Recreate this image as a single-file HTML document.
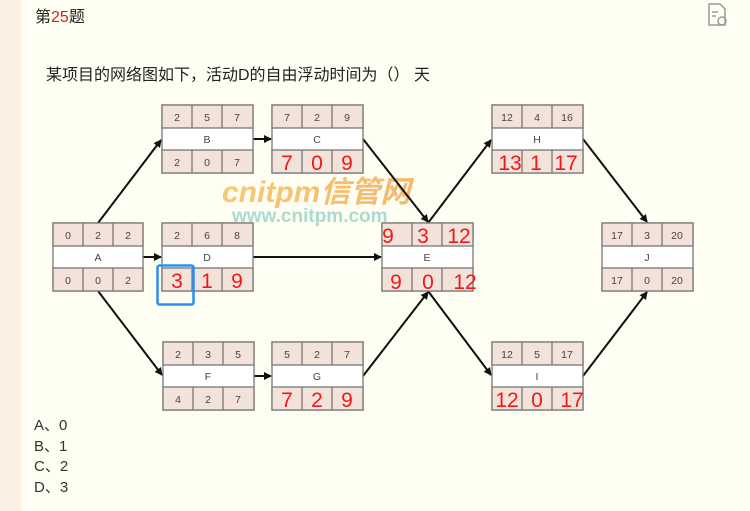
<!DOCTYPE html>
<html><head><meta charset="utf-8"><style>
html,body{margin:0;padding:0}
body{width:750px;height:511px;background:#fffef2;position:relative;overflow:hidden;font-family:"Liberation Sans","Noto Sans CJK SC",sans-serif}
.strip{position:absolute;left:0;top:0;width:21px;height:511px;background:#fbf0e2}
</style></head><body>
<div class="strip"></div>
<svg width="750" height="511" style="position:absolute;left:0;top:0" xmlns="http://www.w3.org/2000/svg" font-family="Liberation Sans, Noto Sans CJK SC, sans-serif">
<defs><marker id="ah" markerWidth="8" markerHeight="8" refX="7" refY="4" orient="auto" markerUnits="userSpaceOnUse" viewBox="0 0 8 8"><path d="M0,0 L8,4 L0,8 z" fill="#111"/></marker>
<linearGradient id="wg" x1="0" x2="1"><stop offset="0" stop-color="#f6b84a"/><stop offset="1" stop-color="#f3a040"/></linearGradient></defs>
<text x="35" y="22" font-size="16" fill="#222">第<tspan fill="#d42020">25</tspan>题</text>
<g fill="none" stroke="#999" stroke-width="1.5"><path d="M709 4h11l5 5v16h-16z"/><path d="M712 12h6M712 16h4"/><circle cx="722" cy="21" r="4"/></g>
<text x="46" y="80" font-size="16" fill="#222">某项目的网络图如下，活动D的自由浮动时间为（） 天</text>
<text x="222" y="202" font-size="30" font-weight="bold" font-style="italic" fill="url(#wg)" opacity="0.75">cnitpm信管网</text>
<text x="232" y="222" font-size="19" font-weight="bold" fill="#8fcfc5" opacity="0.75">www.cnitpm.com</text>
<g stroke="#111" stroke-width="2" marker-end="url(#ah)">
<line x1="98" y1="223" x2="161" y2="140"/>
<line x1="143" y1="257" x2="161" y2="257"/>
<line x1="98" y1="291" x2="162" y2="375"/>
<line x1="253" y1="139" x2="271" y2="139"/>
<line x1="363" y1="139" x2="428" y2="222"/>
<line x1="253" y1="257" x2="381" y2="257"/>
<line x1="363" y1="376" x2="428" y2="292"/>
<line x1="428" y1="223" x2="491" y2="140"/>
<line x1="428" y1="291" x2="491" y2="375"/>
<line x1="583" y1="139" x2="647" y2="222"/>
<line x1="583" y1="376" x2="647" y2="292"/>
<line x1="253" y1="376" x2="271" y2="376"/>
</g>
</svg>
<svg width="750" height="511" style="position:absolute;left:0;top:0" xmlns="http://www.w3.org/2000/svg" font-family="Liberation Sans, sans-serif" text-anchor="middle">
<g stroke="#777" stroke-width="1.3">
<rect x="53" y="223" width="90" height="68" fill="#fff"/><rect x="53" y="223" width="90" height="23" fill="#f3e2da"/><rect x="53" y="268" width="90" height="23" fill="#f3e2da"/><path d="M83 223v23M113 223v23M83 268v23M113 268v23"/>
<rect x="162" y="105" width="91" height="68" fill="#fff"/><rect x="162" y="105" width="91" height="23" fill="#f3e2da"/><rect x="162" y="150" width="91" height="23" fill="#f3e2da"/><path d="M192 105v23M222 105v23M192 150v23M222 150v23"/>
<rect x="272" y="105" width="91" height="68" fill="#fff"/><rect x="272" y="105" width="91" height="23" fill="#f3e2da"/><rect x="272" y="150" width="91" height="23" fill="#f3e2da"/><path d="M302 105v23M332 105v23M302 150v23M332 150v23"/>
<rect x="162" y="223" width="91" height="68" fill="#fff"/><rect x="162" y="223" width="91" height="23" fill="#f3e2da"/><rect x="162" y="268" width="91" height="23" fill="#f3e2da"/><path d="M192 223v23M222 223v23M192 268v23M222 268v23"/>
<rect x="382" y="223" width="91" height="68" fill="#fff"/><rect x="382" y="223" width="91" height="23" fill="#f3e2da"/><rect x="382" y="268" width="91" height="23" fill="#f3e2da"/><path d="M412 223v23M442 223v23M412 268v23M442 268v23"/>
<rect x="492" y="105" width="91" height="68" fill="#fff"/><rect x="492" y="105" width="91" height="23" fill="#f3e2da"/><rect x="492" y="150" width="91" height="23" fill="#f3e2da"/><path d="M522 105v23M552 105v23M522 150v23M552 150v23"/>
<rect x="602" y="223" width="91" height="68" fill="#fff"/><rect x="602" y="223" width="91" height="23" fill="#f3e2da"/><rect x="602" y="268" width="91" height="23" fill="#f3e2da"/><path d="M632 223v23M662 223v23M632 268v23M662 268v23"/>
<rect x="163" y="342" width="91" height="68" fill="#fff"/><rect x="163" y="342" width="91" height="23" fill="#f3e2da"/><rect x="163" y="387" width="91" height="23" fill="#f3e2da"/><path d="M193 342v23M223 342v23M193 387v23M223 387v23"/>
<rect x="272" y="342" width="91" height="68" fill="#fff"/><rect x="272" y="342" width="91" height="23" fill="#f3e2da"/><rect x="272" y="387" width="91" height="23" fill="#f3e2da"/><path d="M302 342v23M332 342v23M302 387v23M332 387v23"/>
<rect x="492" y="342" width="91" height="68" fill="#fff"/><rect x="492" y="342" width="91" height="23" fill="#f3e2da"/><rect x="492" y="387" width="91" height="23" fill="#f3e2da"/><path d="M522 342v23M552 342v23M522 387v23M552 387v23"/>
</g>
<g font-size="10.5" fill="#444">
<text x="68" y="239">0</text><text x="98" y="239">2</text><text x="128" y="239">2</text><text x="98" y="261">A</text><text x="68" y="284">0</text><text x="98" y="284">0</text><text x="128" y="284">2</text>
<text x="177" y="121">2</text><text x="207" y="121">5</text><text x="237" y="121">7</text><text x="207" y="143">B</text><text x="177" y="166">2</text><text x="207" y="166">0</text><text x="237" y="166">7</text>
<text x="287" y="121">7</text><text x="317" y="121">2</text><text x="347" y="121">9</text><text x="317" y="143">C</text>
<text x="177" y="239">2</text><text x="207" y="239">6</text><text x="237" y="239">8</text><text x="207" y="261">D</text>
<text x="427" y="261">E</text>
<text x="507" y="121">12</text><text x="537" y="121">4</text><text x="567" y="121">16</text><text x="537" y="143">H</text>
<text x="617" y="239">17</text><text x="647" y="239">3</text><text x="677" y="239">20</text><text x="647" y="261">J</text><text x="617" y="284">17</text><text x="647" y="284">0</text><text x="677" y="284">20</text>
<text x="178" y="358">2</text><text x="208" y="358">3</text><text x="238" y="358">5</text><text x="208" y="380">F</text><text x="178" y="403">4</text><text x="208" y="403">2</text><text x="238" y="403">7</text>
<text x="287" y="358">5</text><text x="317" y="358">2</text><text x="347" y="358">7</text><text x="317" y="380">G</text>
<text x="507" y="358">12</text><text x="537" y="358">5</text><text x="567" y="358">17</text><text x="537" y="380">I</text>
</g>
<g font-size="21" fill="#f01818">
<text x="287" y="170">7</text><text x="317" y="170">0</text><text x="347" y="170">9</text>
<text x="177" y="288">3</text><text x="207" y="288">1</text><text x="237" y="288">9</text>
<text x="388" y="243">9</text><text x="423" y="243">3</text><text x="459" y="243">12</text>
<text x="396" y="289">9</text><text x="428" y="289">0</text><text x="465" y="289">12</text>
<text x="510" y="170">13</text><text x="536" y="170">1</text><text x="566" y="170">17</text>
<text x="287" y="407">7</text><text x="317" y="407">2</text><text x="347" y="407">9</text>
<text x="507" y="407">12</text><text x="537" y="407">0</text><text x="572" y="407">17</text>
</g>
<rect x="157.5" y="265.5" width="36" height="39" rx="2" fill="none" stroke="#2a8ff0" stroke-width="2.5"/>
</svg>
<div style="position:absolute;left:34px;top:416px;font-size:15px;line-height:20.5px;color:#333">A、0<br>B、1<br>C、2<br>D、3</div>
</body></html>
